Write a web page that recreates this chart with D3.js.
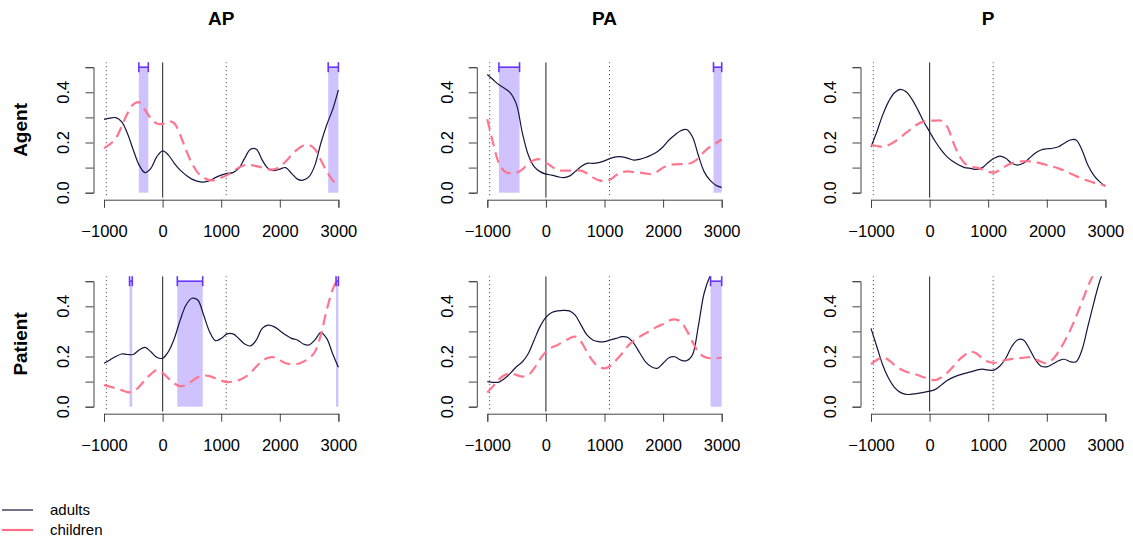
<!DOCTYPE html>
<html>
<head>
<meta charset="utf-8">
<script src="https://cdn.jsdelivr.net/npm/d3@7"></script>
<style>
  body { margin: 0; background: #fff; }
  svg { font-family: "Liberation Sans", Arial, sans-serif; }
</style>
</head>
<body>
<div id="plot-container"></div>
<script>
// time axis (ms) shared by every curve
const timePoints = [-1000, -900, -800, -700, -600, -500, -400, -300, -200, -100,
  0, 100, 200, 300, 400, 500, 600, 700, 800, 900, 1000, 1100, 1200, 1300, 1400,
  1500, 1600, 1700, 1800, 1900, 2000, 2100, 2200, 2300, 2400, 2500, 2600, 2700,
  2800, 2900, 3000];

const columns = ['AP', 'PA', 'P'];
const rows = ['Agent', 'Patient'];
const groups = ['adults', 'children'];

// Agent row
const apAgentAdults = [0.292, 0.297, 0.299, 0.283, 0.236, 0.17, 0.11, 0.08, 0.097, 0.143,
  0.167, 0.15, 0.117, 0.09, 0.07, 0.054, 0.045, 0.042, 0.048, 0.06, 0.07, 0.077, 0.08,
  0.097, 0.137, 0.173, 0.173, 0.13, 0.097, 0.088, 0.094, 0.1, 0.077, 0.054, 0.05, 0.064,
  0.11, 0.197, 0.27, 0.33, 0.41];
const apAgentChildren = [0.177, 0.193, 0.216, 0.263, 0.316, 0.352, 0.36, 0.33, 0.296, 0.276,
  0.274, 0.285, 0.276, 0.23, 0.17, 0.117, 0.08, 0.06, 0.05, 0.05, 0.06, 0.07, 0.084,
  0.1, 0.11, 0.11, 0.106, 0.1, 0.093, 0.093, 0.104, 0.124, 0.15, 0.173, 0.187, 0.19,
  0.173, 0.13, 0.086, 0.05, 0.03];
const paAgentAdults = [0.471, 0.45, 0.43, 0.415, 0.396, 0.35, 0.236, 0.15, 0.104, 0.084,
  0.074, 0.07, 0.064, 0.06, 0.066, 0.084, 0.104, 0.117, 0.117, 0.12, 0.127, 0.137, 0.143,
  0.143, 0.137, 0.13, 0.133, 0.14, 0.15, 0.163, 0.183, 0.21, 0.23, 0.247, 0.252, 0.223,
  0.15, 0.084, 0.05, 0.03, 0.021];
const paAgentChildren = [0.293, 0.197, 0.117, 0.084, 0.077, 0.08, 0.093, 0.117, 0.13, 0.133,
  0.12, 0.104, 0.09, 0.088, 0.088, 0.088, 0.088, 0.077, 0.061, 0.05, 0.046, 0.053, 0.07,
  0.082, 0.085, 0.082, 0.08, 0.077, 0.074, 0.084, 0.1, 0.11, 0.113, 0.114, 0.114, 0.12,
  0.137, 0.163, 0.183, 0.197, 0.212];
const pAgentAdults = [0.183, 0.243, 0.31, 0.363, 0.398, 0.412, 0.402, 0.372, 0.33, 0.283,
  0.243, 0.203, 0.17, 0.143, 0.124, 0.11, 0.1, 0.097, 0.093, 0.1, 0.12, 0.137, 0.146,
  0.137, 0.117, 0.11, 0.117, 0.137, 0.157, 0.17, 0.175, 0.177, 0.183, 0.197, 0.21, 0.21,
  0.17, 0.11, 0.07, 0.044, 0.027];
const pAgentChildren = [0.19, 0.186, 0.183, 0.19, 0.203, 0.22, 0.239, 0.256, 0.274, 0.283,
  0.287, 0.287, 0.287, 0.263, 0.203, 0.15, 0.117, 0.104, 0.1, 0.093, 0.084, 0.08, 0.09,
  0.106, 0.117, 0.124, 0.125, 0.125, 0.122, 0.117, 0.11, 0.104, 0.097, 0.088, 0.077,
  0.066, 0.057, 0.048, 0.04, 0.035, 0.027];

// Patient row
const apPatientAdults = [0.173, 0.186, 0.2, 0.21, 0.208, 0.208, 0.226, 0.236, 0.219, 0.197,
  0.193, 0.22, 0.272, 0.345, 0.405, 0.432, 0.425, 0.365, 0.3, 0.263, 0.272, 0.29, 0.29,
  0.272, 0.25, 0.242, 0.266, 0.312, 0.325, 0.319, 0.303, 0.286, 0.272, 0.266, 0.25, 0.246,
  0.266, 0.295, 0.272, 0.212, 0.157];
const apPatientChildren = [0.086, 0.08, 0.073, 0.066, 0.058, 0.06, 0.08, 0.106, 0.13, 0.146,
  0.135, 0.113, 0.093, 0.082, 0.086, 0.102, 0.117, 0.124, 0.122, 0.113, 0.104, 0.098, 0.1,
  0.106, 0.117, 0.135, 0.16, 0.182, 0.195, 0.197, 0.186, 0.173, 0.169, 0.17, 0.179, 0.193,
  0.219, 0.286, 0.385, 0.465, 0.518];
const paPatientAdults = [0.1, 0.097, 0.098, 0.113, 0.135, 0.16, 0.179, 0.212, 0.266, 0.319,
  0.356, 0.375, 0.382, 0.384, 0.382, 0.365, 0.325, 0.286, 0.266, 0.259, 0.259, 0.266, 0.272,
  0.279, 0.276, 0.252, 0.215, 0.179, 0.159, 0.153, 0.173, 0.195, 0.199, 0.186, 0.183, 0.206,
  0.319, 0.452, 0.52, 0.56, 0.58];
const paPatientChildren = [0.057, 0.082, 0.109, 0.126, 0.133, 0.126, 0.12, 0.126, 0.153, 0.189,
  0.219, 0.236, 0.246, 0.259, 0.272, 0.279, 0.259, 0.219, 0.182, 0.159, 0.153, 0.162, 0.186,
  0.212, 0.242, 0.263, 0.279, 0.292, 0.305, 0.319, 0.329, 0.343, 0.348, 0.339, 0.305, 0.259,
  0.219, 0.199, 0.193, 0.193, 0.195];
const pPatientAdults = [0.312, 0.239, 0.166, 0.113, 0.077, 0.057, 0.049, 0.05, 0.053, 0.057,
  0.062, 0.069, 0.086, 0.104, 0.117, 0.126, 0.133, 0.139, 0.146, 0.15, 0.146, 0.146, 0.162,
  0.193, 0.239, 0.266, 0.266, 0.232, 0.189, 0.162, 0.159, 0.17, 0.183, 0.189, 0.179, 0.179,
  0.226, 0.319, 0.412, 0.498, 0.56];
const pPatientChildren = [0.17, 0.186, 0.197, 0.186, 0.166, 0.15, 0.139, 0.133, 0.126, 0.117,
  0.11, 0.106, 0.117, 0.135, 0.159, 0.186, 0.206, 0.219, 0.212, 0.193, 0.179, 0.175, 0.179,
  0.186, 0.19, 0.193, 0.195, 0.197, 0.19, 0.179, 0.173, 0.189, 0.219, 0.259, 0.305, 0.359,
  0.418, 0.478, 0.531, 0.6, 0.65];

// significant windows [start, end] in ms
const apAgentBands = [[-405, -244], [2826, 3000]];
const paAgentBands = [[-802, -450], [2860, 3000]];
const pAgentBands = [];
const apPatientBands = [[-564, -518], [251, 684], [2960, 3000]];
const paPatientBands = [[2810, 3000]];
const pPatientBands = [];

// reference lines (ms)
const onsetLine = 0;
const dottedLines = [-960, 1085];

const xTicks = [-1000, 0, 1000, 2000, 3000];
const yTicks = [0, 0.1, 0.2, 0.3, 0.4, 0.5];
const yLabels = [0, 0.2, 0.4];

const series = [
  [[apAgentAdults, apAgentChildren], [paAgentAdults, paAgentChildren], [pAgentAdults, pAgentChildren]],
  [[apPatientAdults, apPatientChildren], [paPatientAdults, paPatientChildren], [pPatientAdults, pPatientChildren]]
];
const bands = [
  [apAgentBands, paAgentBands, pAgentBands],
  [apPatientBands, paPatientBands, pPatientBands]
];

const colors = { adults: '#16163f', children: '#ff6f8a' };
const bandFill = '#cfc2fd';
const barColor = '#6633ff';

const W = 1133, H = 540;
const colLeft = [104, 487.3, 871];   // pixel of x=-1000 in each column
const rowZero = [192.7, 406.7];      // pixel of y=0 in each row
const panelW = 234.4, panelH = 125.5;

const svg = d3.select('#plot-container')
  .append('svg')
  .attr('width', W)
  .attr('height', H);

rows.forEach((rowName, r) => {
  columns.forEach((colName, c) => {
    const x = d3.scaleLinear().domain([-1000, 3000]).range([colLeft[c], colLeft[c] + panelW]);
    const y = d3.scaleLinear().domain([0, 0.5]).range([rowZero[r], rowZero[r] - panelH]);
    // plot region with R's 4% padding
    const x0 = x(-1160), x1 = x(3160), yTop = y(0.52), yBot = y(-0.02);

    const clipId = `clip-${r}-${c}`;
    svg.append('clipPath').attr('id', clipId)
      .append('rect')
      .attr('x', x0).attr('y', yTop)
      .attr('width', x1 - x0).attr('height', yBot - yTop);

    const g = svg.append('g');
    const plot = g.append('g').attr('clip-path', `url(#${clipId})`);

    // shaded significance windows
    bands[r][c].forEach(b => {
      plot.append('rect')
        .attr('x', x(b[0]))
        .attr('y', y(0.5))
        .attr('width', x(b[1]) - x(b[0]))
        .attr('height', y(0) - y(0.5))
        .attr('fill', bandFill);
    });

    // onset line + dotted lines
    plot.append('line')
      .attr('x1', x(onsetLine)).attr('x2', x(onsetLine))
      .attr('y1', yTop).attr('y2', yBot)
      .attr('stroke', '#444').attr('stroke-width', 1.2);
    dottedLines.forEach(d => {
      plot.append('line')
        .attr('x1', x(d)).attr('x2', x(d))
        .attr('y1', yTop).attr('y2', yBot)
        .attr('stroke', '#333').attr('stroke-width', 1)
        .attr('stroke-dasharray', '1,3');
    });

    const line = d3.line()
      .x((d, i) => x(timePoints[i]))
      .y(d => y(d))
      .curve(d3.curveCatmullRom.alpha(0.5));

    // adults solid, children dashed
    plot.append('path')
      .datum(series[r][c][0])
      .attr('d', line)
      .attr('fill', 'none')
      .attr('stroke', colors.adults)
      .attr('stroke-width', 1.2);
    plot.append('path')
      .datum(series[r][c][1])
      .attr('d', line)
      .attr('fill', 'none')
      .attr('stroke', colors.children)
      .attr('stroke-width', 2.2)
      .attr('stroke-dasharray', '11,6')
      .attr('opacity', 0.95);

    // error bars marking the windows at the top
    bands[r][c].forEach(b => {
      const yy = y(0.5);
      const eb = g.append('g').attr('stroke', barColor).attr('stroke-width', 1.6);
      eb.append('line').attr('x1', x(b[0])).attr('x2', x(b[1])).attr('y1', yy).attr('y2', yy);
      [b[0], b[1]].forEach(v => {
        eb.append('line').attr('x1', x(v)).attr('x2', x(v)).attr('y1', yy - 5).attr('y2', yy + 5);
      });
    });

    // x axis
    const xAxisY = rowZero[r] + 7;
    g.append('g')
      .attr('transform', `translate(0,${xAxisY})`)
      .call(d3.axisBottom(x).tickValues(xTicks).tickSize(8).tickPadding(18)
        .tickFormat(d => d < 0 ? '\u2212' + Math.abs(d) : d))
      .call(ax => {
        ax.select('.domain').attr('stroke', '#444');
        ax.selectAll('line').attr('stroke', '#444');
        ax.selectAll('text').style('font-size', '16.5px').attr('fill', '#000');
      });

    // y axis
    const yAxisX = colLeft[c] - 10.5;
    g.append('g')
      .attr('transform', `translate(${yAxisX},0)`)
      .call(d3.axisLeft(y).tickValues(yTicks).tickSize(8).tickFormat(''))
      .call(ax => {
        ax.select('.domain').attr('stroke', '#444');
        ax.selectAll('line').attr('stroke', '#444');
      });
    yLabels.forEach(v => {
      g.append('text')
        .attr('transform', `translate(${yAxisX - 30},${y(v)}) rotate(-90)`)
        .attr('text-anchor', 'middle')
        .attr('dy', '0.35em')
        .style('font-size', '16.5px')
        .text(d3.format('.1f')(v));
    });

    // column titles
    if (r === 0) {
      svg.append('text')
        .attr('x', (x0 + x1) / 2)
        .attr('y', 18)
        .attr('dy', '0.35em')
        .attr('text-anchor', 'middle')
        .style('font-size', '19px')
        .style('font-weight', 'bold')
        .text(colName);
    }
    // row labels
    if (c === 0) {
      svg.append('text')
        .attr('transform', `translate(20,${y(0.25)}) rotate(-90)`)
        .attr('text-anchor', 'middle')
        .attr('dy', '0.35em')
        .style('font-size', '19px')
        .style('font-weight', 'bold')
        .text(rowName);
    }
  });
});

// legend
const legend = svg.append('g');
groups.forEach((name, i) => {
  const ly = 510 + i * 20;
  legend.append('line')
    .attr('x1', 2).attr('x2', 33)
    .attr('y1', ly).attr('y2', ly)
    .attr('stroke', colors[name])
    .attr('stroke-width', name === 'adults' ? 1.2 : 2.2);
  legend.append('text')
    .attr('x', 50).attr('y', ly)
    .attr('dy', '0.35em')
    .style('font-size', '15px')
    .text(name);
});
</script>
</body>
</html>
